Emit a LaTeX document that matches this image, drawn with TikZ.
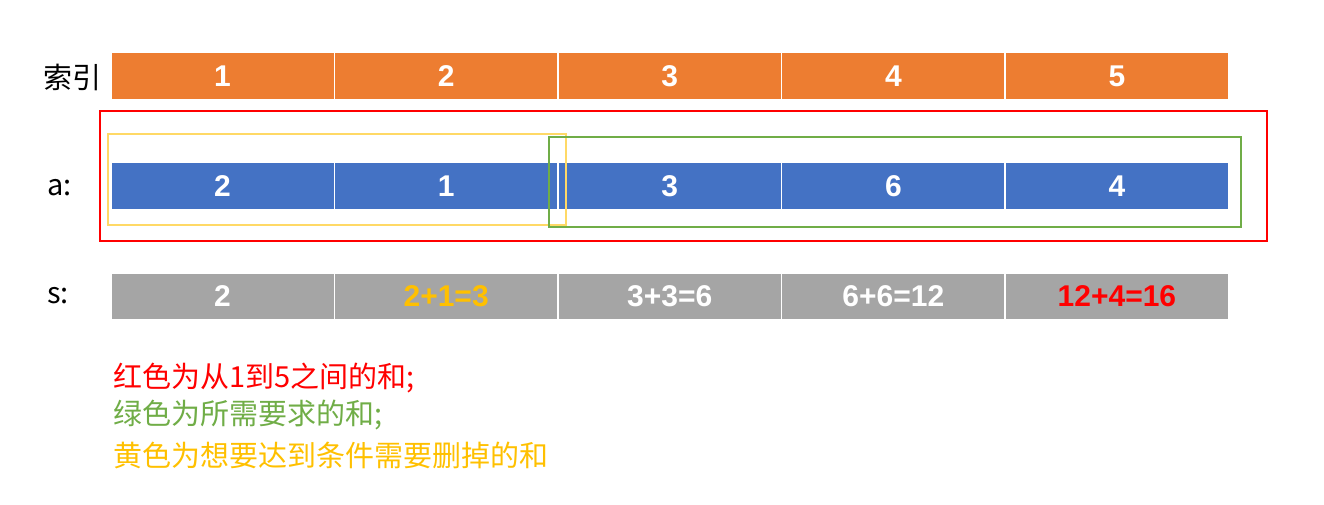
\documentclass[tikz,border=0pt]{standalone}
\usepackage{fontspec}
\setmainfont{Liberation Sans}
\newfontfamily\cjk{Noto Sans CJK SC}
\definecolor{cor}{HTML}{ED7D31}
\definecolor{cbl}{HTML}{4472C4}
\definecolor{cgr}{HTML}{A5A5A5}
\definecolor{cgreen}{HTML}{70AD47}
\definecolor{cyel}{HTML}{FFC000}
\definecolor{cyelbox}{HTML}{FFD966}
\begin{document}
\begin{tikzpicture}[x=1pt,y=-1pt,
  cell/.style={draw=white,line width=1.5pt,minimum width=223.6pt,minimum height=47pt,inner sep=0pt,anchor=north west,text=white,font=\fontsize{30}{30}\selectfont\bfseries},
  lbl/.style={font=\cjk\fontsize{29}{29}\selectfont,anchor=west,inner sep=0pt},
  note/.style={font=\cjk\fontsize{29}{29}\selectfont,anchor=west,inner sep=0pt}]
\useasboundingbox (0,0) rectangle (1324,505);
\foreach \i/\t in {0/1,1/2,2/3,3/4,4/5}
  \node[cell,fill=cor] (i\i) at ({110+223.6*\i},52) {\t};
\foreach \i/\t in {0/2,1/1,2/3,3/6,4/4}
  \node[cell,fill=cbl] (a\i) at ({110+223.6*\i},162) {\t};
\node[cell,fill=cgr] (s0) at (110,272) {2};
\node[cell,fill=cgr,text=cyel] (s1) at (333.6,272) {2+1=3};
\node[cell,fill=cgr] (s2) at (557.2,272) {3+3=6};
\node[cell,fill=cgr] (s3) at (780.8,272) {6+6=12};
\node[cell,fill=cgr,text=red] (s4) at (1004.4,272) {12+4=16};
\node[lbl] (l1) at (43,77) {索引};
\node[lbl] (l2) at (47,188) {a:};
\node[lbl] (l3) at (47,296) {s:};
\draw[red,line width=1.5pt] (100,111) rectangle (1267,241);
\draw[cyelbox,line width=1.5pt] (108,134) rectangle (566,225);
\draw[cgreen,line width=1.5pt] (549,137) rectangle (1241,227);
\node[note,text=red] (n1) at (113,378) {红色为从1到5之间的和;};
\node[note,text=cgreen] (n2) at (113,415) {绿色为所需要求的和;};
\node[note,text=cyel] (n3) at (113,455) {黄色为想要达到条件需要删掉的和};
\end{tikzpicture}
\end{document}
